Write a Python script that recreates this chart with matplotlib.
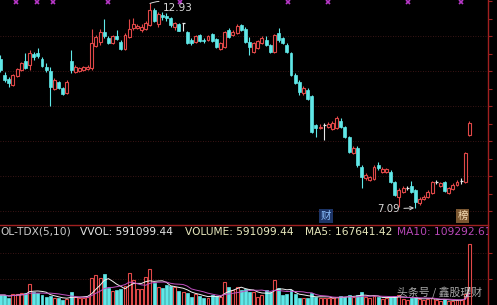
import matplotlib
matplotlib.use('Agg')
import matplotlib.pyplot as plt
import pandas as pd
from matplotlib.patches import Rectangle

# daily OHLC
opens = [11.34, 10.89, 10.77, 10.60, 10.86, 11.03, 11.29, 11.17, 11.49, 11.52,
         11.34, 11.12, 11.00, 10.49, 10.69, 10.52, 10.37, 11.29, 10.97, 11.00,
         11.03, 11.06, 11.09, 11.72, 11.83, 12.12, 11.94, 11.80, 12.00, 11.83,
         11.63, 11.97, 12.23, 12.23, 12.17, 12.20, 12.32, 12.74, 12.34, 12.60,
         12.57, 12.52, 12.26, 12.34, 12.36, 12.12, 11.89, 11.83, 12.03, 11.89,
         11.89, 12.06, 11.92, 11.63, 11.69, 12.17, 12.03, 12.09, 12.32, 12.20,
         11.83, 11.54, 11.66, 11.80, 11.89, 11.74, 11.54, 12.09, 11.94, 11.74,
         11.52, 10.89, 10.69, 10.37, 10.46, 10.29, 9.46, 9.37, 9.45, 9.40,
         9.34, 9.37, 9.57, 9.40, 9.12, 8.66, 8.80, 8.26, 7.94, 7.89,
         7.92, 8.32, 8.12, 8.12, 8.12, 7.83, 7.40, 7.54, 7.65, 7.72,
         7.60, 7.23, 7.34, 7.40, 7.52, 7.82, 7.72, 7.83, 7.52, 7.63,
         7.74, 7.85, 7.83, 9.17]
closes = [11.03, 10.74, 10.66, 10.89, 11.06, 11.23, 11.09, 11.52, 11.40, 11.43,
          11.14, 11.03, 10.54, 10.74, 10.52, 10.34, 10.69, 11.03, 11.12, 11.09,
          11.12, 11.12, 11.80, 11.97, 12.12, 12.00, 11.80, 12.00, 11.92, 11.63,
          12.03, 12.20, 12.34, 12.29, 12.26, 12.37, 12.74, 12.43, 12.63, 12.54,
          12.52, 12.32, 12.37, 12.14, 12.36, 11.80, 11.80, 12.00, 11.86, 11.86,
          12.00, 11.86, 11.69, 11.80, 12.12, 11.97, 12.12, 12.29, 12.17, 11.83,
          11.69, 11.80, 11.86, 11.94, 11.74, 11.54, 12.03, 11.89, 11.80, 11.54,
          10.89, 10.66, 10.40, 10.52, 10.20, 9.26, 9.37, 9.40, 9.45, 9.49,
          9.52, 9.66, 9.40, 9.12, 8.69, 8.80, 8.32, 7.97, 8.03, 7.97,
          8.26, 8.23, 8.20, 8.20, 7.83, 7.46, 7.60, 7.66, 7.65, 7.54,
          7.26, 7.34, 7.40, 7.54, 7.83, 7.82, 7.80, 7.57, 7.66, 7.74,
          7.83, 7.85, 8.66, 9.52]
highs = [11.46, 10.97, 10.83, 10.92, 11.09, 11.26, 11.52, 11.60, 11.54, 11.66,
         11.40, 11.23, 11.12, 10.80, 10.72, 10.54, 10.74, 11.60, 11.17, 11.12,
         11.14, 11.17, 12.20, 12.03, 12.20, 12.49, 12.00, 12.03, 12.17, 11.89,
         12.09, 12.49, 12.52, 12.34, 12.34, 12.43, 12.93, 12.80, 12.69, 12.69,
         12.66, 12.54, 12.40, 12.37, 12.37, 12.14, 11.94, 12.03, 12.06, 11.94,
         12.03, 12.09, 11.94, 11.83, 12.14, 12.23, 12.17, 12.34, 12.34, 12.26,
         11.97, 11.83, 11.89, 12.00, 12.00, 11.77, 12.06, 12.23, 11.97, 11.80,
         11.54, 10.94, 10.74, 10.57, 10.52, 10.32, 9.49, 9.49, 9.52, 9.54,
         9.57, 9.72, 9.66, 9.43, 9.14, 8.86, 8.86, 8.32, 8.09, 8.00,
         8.32, 8.40, 8.26, 8.23, 8.17, 7.86, 7.66, 7.72, 7.72, 7.86,
         7.63, 7.40, 7.46, 7.60, 7.86, 7.89, 7.83, 7.86, 7.69, 7.80,
         7.89, 7.94, 8.69, 9.57]
lows = [10.97, 10.69, 10.54, 10.57, 10.83, 11.00, 11.06, 11.03, 11.32, 11.37,
        11.12, 10.97, 10.00, 10.46, 10.49, 10.32, 10.34, 10.94, 10.94, 10.97,
        11.00, 11.03, 11.03, 11.69, 11.74, 11.94, 11.77, 11.77, 11.89, 11.60,
        11.60, 11.94, 12.17, 12.20, 12.12, 12.17, 12.29, 12.40, 12.26, 12.46,
        12.43, 12.26, 12.17, 12.14, 12.14, 11.77, 11.74, 11.80, 11.83, 11.80,
        11.86, 11.83, 11.66, 11.60, 11.66, 11.94, 12.00, 12.06, 12.14, 11.80,
        11.46, 11.52, 11.63, 11.77, 11.72, 11.52, 11.52, 11.83, 11.77, 11.52,
        10.86, 10.63, 10.32, 10.32, 10.17, 9.23, 9.12, 9.34, 9.03, 9.37,
        9.32, 9.34, 9.37, 9.09, 8.66, 8.63, 8.26, 7.66, 7.89, 7.86,
        7.89, 8.17, 8.09, 8.09, 7.80, 7.43, 7.12, 7.52, 7.60, 7.52,
        7.09, 7.17, 7.32, 7.37, 7.49, 7.77, 7.69, 7.54, 7.49, 7.60,
        7.72, 7.77, 7.80, 9.14]
volumes = [96900, 96900, 67800, 106600, 106600, 116300, 116300, 203500, 126000, 116300,
           96900, 77500, 87200, 67800, 67800, 48500, 58100, 126000, 77500, 67800,
           67800, 77500, 261600, 290700, 261600, 300400, 164700, 135700, 145400, 155000,
           184100, 310100, 242300, 155000, 155000, 271300, 348800, 213200, 174400, 164700,
           193800, 184100, 174400, 135700, 126000, 116300, 77500, 106600, 87200, 67800,
           67800, 96900, 87200, 77500, 222900, 174400, 145400, 174400, 145400, 155000,
           126000, 126000, 77500, 96900, 145400, 126000, 242300, 164700, 96900, 106600,
           145400, 106600, 67800, 67800, 67800, 116300, 77500, 67800, 67800, 67800,
           67800, 77500, 87200, 77500, 96900, 77500, 96900, 126000, 77500, 67800,
           87200, 77500, 58100, 67800, 77500, 87200, 96900, 58100, 48500, 67800,
           77500, 58100, 48500, 58100, 67800, 48500, 43600, 53300, 41700, 43600,
           48500, 48500, 106600, 591099.44]
signal_days = [3.7, 8.8, 12.7, 25.9, 43.3, 69.3, 78.9, 98.2, 111]

RED = '#e04848'
CYAN = '#60e8e8'
WHITE = '#e8e8e8'
GRID = '#4e1c1c'
AXIS = '#a02020'

W, H = 497, 305
fig = plt.figure(figsize=(W / 100, H / 100), dpi=100, facecolor='black')
ax = fig.add_axes([0, 1 - 224 / H, 488 / W, 224 / H], facecolor='black')
axv = fig.add_axes([0, 0, 488 / W, 80 / H], facecolor='black')

n = len(opens)
xlim = (-0.12, 117.47)
bw = 0.72

for i in range(n):
    o, c, h, l = opens[i], closes[i], highs[i], lows[i]
    lo, hi = min(o, c), max(o, c)
    if c > o:
        ax.vlines(i, l, lo, color=RED, lw=0.8)
        ax.vlines(i, hi, h, color=RED, lw=0.8)
        ax.add_patch(Rectangle((i - bw / 2, lo), bw, hi - lo, facecolor='black',
                               edgecolor=RED, lw=0.8))
    elif c < o:
        ax.vlines(i, l, h, color=CYAN, lw=0.8)
        ax.add_patch(Rectangle((i - bw / 2, lo), bw, hi - lo, facecolor=CYAN,
                               edgecolor=CYAN, lw=0.5))
    else:
        ax.vlines(i, l, h, color=WHITE, lw=0.8)
        ax.hlines(o, i - bw / 2, i + bw / 2, color=WHITE, lw=0.9)

ax.plot(signal_days, [12.97] * len(signal_days), ls='none', marker='x',
        ms=3.5, mew=1.2, color='#b838c8')

ax.annotate('12.93', xy=(36, 12.93), xytext=(39.2, 12.79), color='#d8d8d8',
            fontsize=7.5, ha='left', va='center',
            arrowprops=dict(arrowstyle='-', color='#d8d8d8', lw=0.7,
                            shrinkA=1, shrinkB=0, connectionstyle='arc3,rad=0.3'))
ax.annotate('7.09', xy=(100, 7.09), xytext=(96.2, 7.06), color='#d8d8d8',
            fontsize=7.4, ha='right', va='center',
            arrowprops=dict(arrowstyle='->', color='#d8d8d8', lw=0.7,
                            shrinkA=1, shrinkB=1, mutation_scale=6))

ax.text(78.4, 6.86, '财', family=['Noto Sans CJK SC', 'DejaVu Sans'], fontsize=7.5,
        color='#8cc0ff', ha='center', va='center',
        bbox=dict(boxstyle='square,pad=0.15', fc='#1c3466', ec='none'))
ax.text(111.3, 6.86, '榜', family=['Noto Sans CJK SC', 'DejaVu Sans'], fontsize=7.5,
        color='#f4dcb4', ha='center', va='center',
        bbox=dict(boxstyle='square,pad=0.15', fc='#7a5630', ec='none'))

ax.set_xlim(*xlim)
ax.set_ylim(6.63, 13.03)
for p in [7, 8, 9, 10, 11, 12]:
    ax.axhline(p, color=GRID, lw=0.6, ls=(0, (1, 2)), zorder=0)

# volume panel
for i in range(n):
    v = volumes[i]
    if closes[i] >= opens[i]:
        axv.add_patch(Rectangle((i - bw / 2, 0), bw, v, facecolor='black',
                                edgecolor=RED, lw=0.8))
    else:
        axv.add_patch(Rectangle((i - bw / 2, 0), bw, v, facecolor=CYAN,
                                edgecolor=CYAN, lw=0.5))

vol = pd.Series(volumes)
axv.plot(range(n), vol.rolling(5, min_periods=1).mean(), color='#f0f0f0', lw=0.7)
axv.plot(range(n), vol.rolling(10, min_periods=1).mean(), color='#c050c0', lw=0.7)
for v in [250000, 500000]:
    axv.axhline(v, color=GRID, lw=0.6, ls=(0, (1, 2)), zorder=0)
axv.set_xlim(*xlim)
axv.set_ylim(0, 775200)

for a in (ax, axv):
    for s in ['left', 'bottom', 'top']:
        a.spines[s].set_visible(False)
    a.spines['right'].set_color(AXIS)
    a.spines['right'].set_linewidth(1.0)
    a.set_xticks([])
    a.yaxis.tick_right()
    a.tick_params(axis='y', direction='out', length=3, color=AXIS, labelright=False)
ax.set_yticks([7 + 0.5 * k for k in range(13)])
axv.set_yticks([250000, 500000])
axv.spines['top'].set_visible(True)
axv.spines['top'].set_color(AXIS)
axv.spines['top'].set_linewidth(1.0)

# volume legend line
legend = [(0, 'OL-TDX(5,10)', '#cccccc'),
          (80, 'VVOL: 591099.44', '#e4e4e4'),
          (185, 'VOLUME: 591099.44', '#e8e8bc'),
          (305, 'MA5: 167641.42', '#e8e8bc'),
          (397, 'MA10: 109292.61', '#b848b8')]
for x, s, col in legend:
    axv.text(x / 488, (305 - 232) / 80, s, transform=axv.transAxes, color=col,
             fontsize=7.7, ha='left', va='center', clip_on=True)

fig.text(397 / W, 1 - 293 / H, '头条号 / 鑫股理财', family=['Noto Sans CJK SC', 'DejaVu Sans'],
         fontsize=7.8, color='#d0d0d0', alpha=0.8, ha='left', va='center')

fig.savefig('out.png', dpi=100, facecolor='black')
